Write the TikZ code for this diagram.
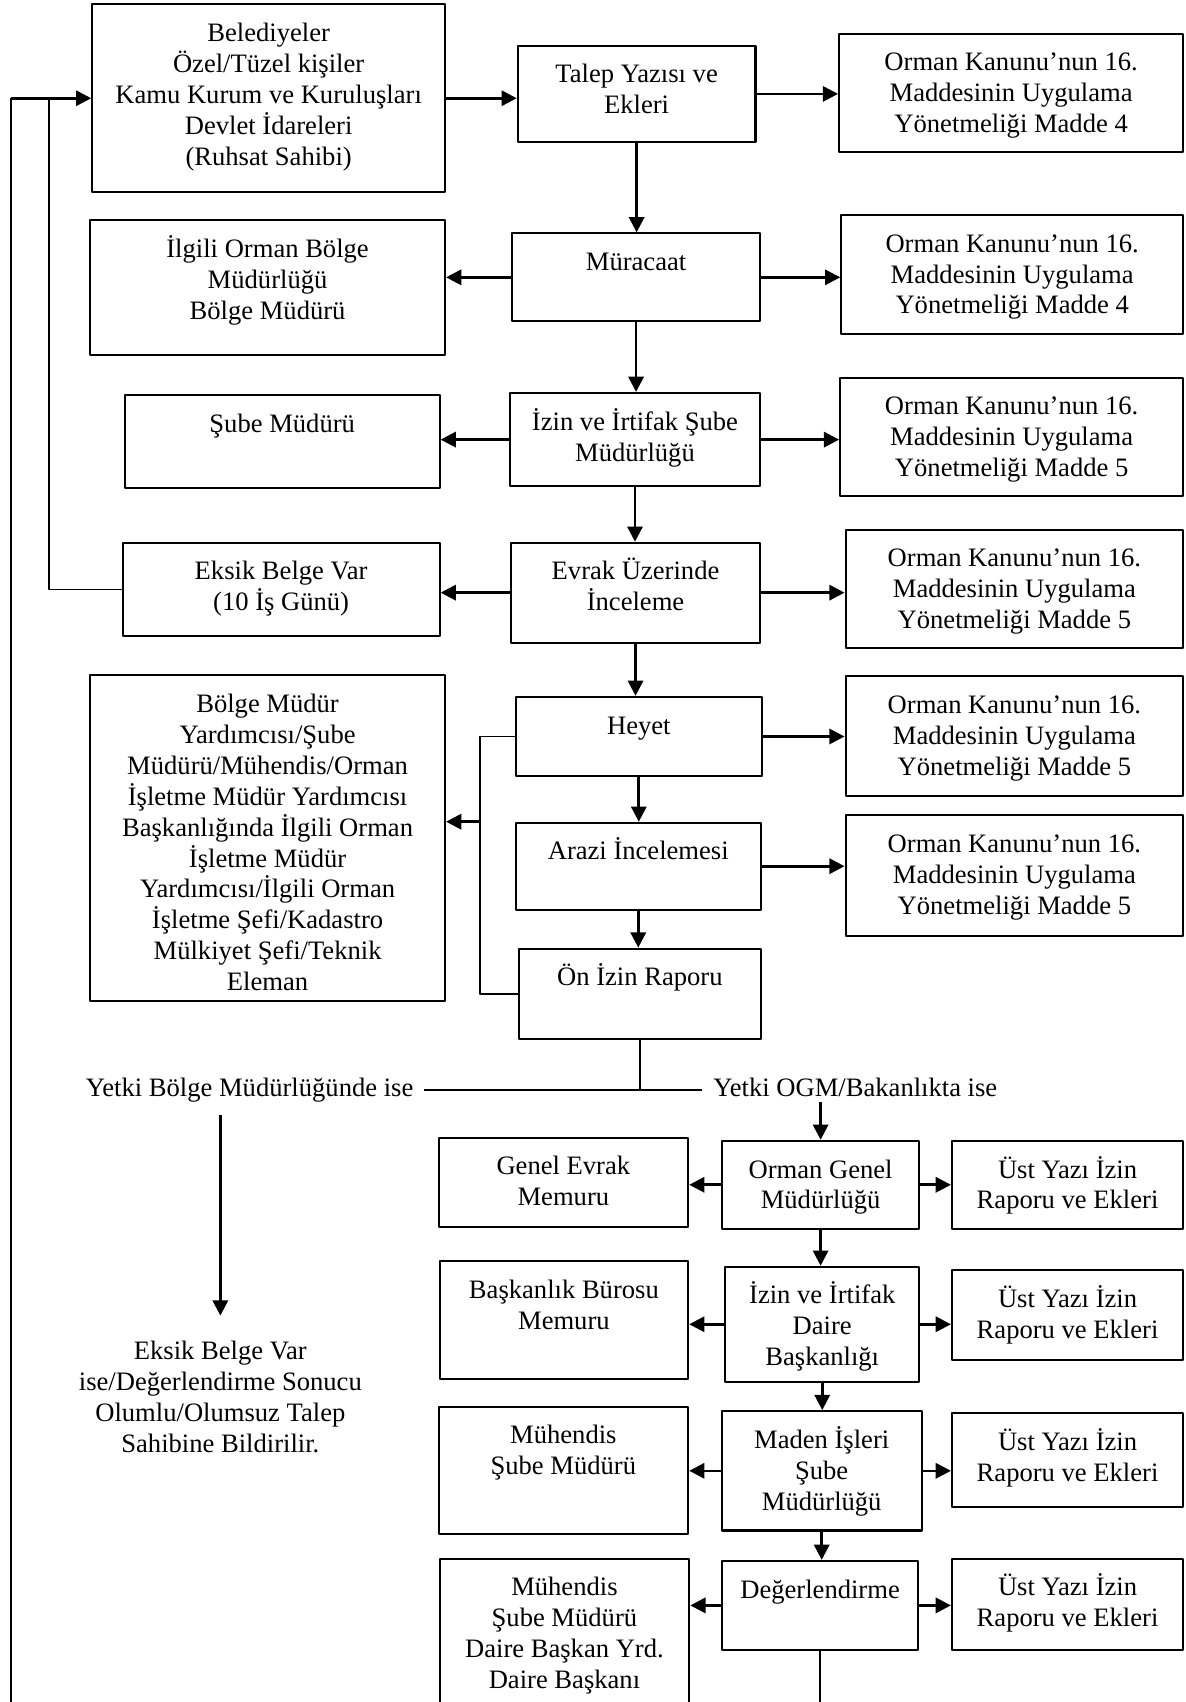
\documentclass[tikz,border=0pt]{standalone}
\usepackage{fontspec}
\setmainfont{Liberation Serif}
\usetikzlibrary{arrows.meta,fit}

\begin{document}
\begin{tikzpicture}[x=1pt, y=-1pt, line join=round,
    kutu/.style={draw, line width=1.9pt, inner sep=0pt},
    duz/.style={align=center, inner sep=0pt, font=\fontsize{24.5}{28.5}\selectfont},
    ust/.style={label={[duz, anchor=north, yshift=-13pt]north:\rule{0pt}{22pt}#1}},
    ok/.style={line width=2.4pt, -{Triangle[length=14pt, width=14pt]}},
    ince/.style={line width=1.5pt}]

    \useasboundingbox (0,0) rectangle (1092,1568);

    % basvuru kismi
    \node[kutu, fit={(85,4) (410,177)}, ust={Belediyeler\\Özel/Tüzel kişiler\\Kamu Kurum ve Kuruluşları\\Devlet İdareleri\\(Ruhsat Sahibi)}] (bel) {};
    \node[kutu, fit={(477,42) (696,131)}, ust={Talep Yazısı ve\\Ekleri}] (talep) {};
    \node[kutu, fit={(773,31) (1090,140)}, ust={Orman Kanunu’nun 16.\\Maddesinin Uygulama\\Yönetmeliği Madde 4}] (kanun1) {};

    \node[kutu, fit={(83,203) (410,327)}, ust={İlgili Orman Bölge\\Müdürlüğü\\Bölge Müdürü}] (ilgili) {};
    \node[kutu, fit={(472,215) (700,296)}, ust={Müracaat}] (muracaat) {};
    \node[kutu, fit={(775,198) (1090,308)}, ust={Orman Kanunu’nun 16.\\Maddesinin Uygulama\\Yönetmeliği Madde 4}] (kanun2) {};

    \node[kutu, fit={(115,364) (405,450)}, ust={Şube Müdürü}] (sube) {};
    \node[kutu, fit={(470,362) (700,448)}, ust={İzin ve İrtifak Şube\\Müdürlüğü}] (izin) {};
    \node[kutu, fit={(774,348) (1090,457)}, ust={Orman Kanunu’nun 16.\\Maddesinin Uygulama\\Yönetmeliği Madde 5}] (kanun3) {};

    \node[kutu, fit={(113,500) (405,586)}, ust={Eksik Belge Var\\(10 İş Günü)}] (eksik) {};
    \node[kutu, fit={(471,500) (700,592)}, ust={Evrak Üzerinde\\İnceleme}] (evrak) {};
    \node[kutu, fit={(779,488) (1090,597)}, ust={Orman Kanunu’nun 16.\\Maddesinin Uygulama\\Yönetmeliği Madde 5}] (kanun4) {};

    \node[kutu, fit={(83,622) (410,922)}, ust={Bölge Müdür\\Yardımcısı/Şube\\Müdürü/Mühendis/Orman\\İşletme Müdür Yardımcısı\\Başkanlığında İlgili Orman\\İşletme Müdür\\Yardımcısı/İlgili Orman\\İşletme Şefi/Kadastro\\Mülkiyet Şefi/Teknik\\Eleman}] (uyeler) {};
    \node[kutu, fit={(475,642) (702,715)}, ust={Heyet}] (heyet) {};
    \node[kutu, fit={(779,623) (1090,733)}, ust={Orman Kanunu’nun 16.\\Maddesinin Uygulama\\Yönetmeliği Madde 5}] (kanun5) {};
    \node[kutu, fit={(475,758) (701,838)}, ust={Arazi İncelemesi}] (arazi) {};
    \node[kutu, fit={(779,751) (1090,862)}, ust={Orman Kanunu’nun 16.\\Maddesinin Uygulama\\Yönetmeliği Madde 5}] (kanun6) {};
    \node[kutu, fit={(478,874) (701,957)}, ust={Ön İzin Raporu}] (onizin) {};

    % yetki ayrimi
    \node[duz, anchor=base east] (yetki1) at (381,1010) {Yetki Bölge Müdürlüğünde ise};
    \node[duz, anchor=base west] (yetki2) at (657,1010) {Yetki OGM/Bakanlıkta ise};
    \node[duz, anchor=north] (sonuc) at (203,1235) {Eksik Belge Var\\ise/Değerlendirme Sonucu\\Olumlu/Olumsuz Talep\\Sahibine Bildirilir.};

    % genel mudurluk kismi
    \node[kutu, fit={(404,1048) (634,1130)}, ust={Genel Evrak\\Memuru}] (genel) {};
    \node[kutu, fit={(665,1051) (847,1132)}, ust={Orman Genel\\Müdürlüğü}] (ogm) {};
    \node[kutu, fit={(877,1051) (1090,1132)}, ust={Üst Yazı İzin\\Raporu ve Ekleri}] (ek1) {};
    \node[kutu, fit={(405,1162) (634,1270)}, ust={Başkanlık Bürosu\\Memuru}] (buro) {};
    \node[kutu, fit={(668,1167) (847,1273)}, ust={İzin ve İrtifak\\Daire\\Başkanlığı}] (daire) {};
    \node[kutu, fit={(877,1170) (1090,1253)}, ust={Üst Yazı İzin\\Raporu ve Ekleri}] (ek2) {};
    \node[kutu, fit={(404,1296) (634,1413)}, ust={Mühendis\\Şube Müdürü}] (muh1) {};
    \node[kutu, fit={(665,1300) (849,1410)}, ust={Maden İşleri\\Şube\\Müdürlüğü}] (maden) {};
    \node[kutu, fit={(877,1302) (1090,1388)}, ust={Üst Yazı İzin\\Raporu ve Ekleri}] (ek3) {};
    \node[kutu, fit={(405,1436) (635,1570)}, ust={Mühendis\\Şube Müdürü\\Daire Başkan Yrd.\\Daire Başkanı}] (muh2) {};
    \node[kutu, fit={(665,1438) (846,1520)}, ust={Değerlendirme}] (deger) {};
    \node[kutu, fit={(877,1436) (1090,1520)}, ust={Üst Yazı İzin\\Raporu ve Ekleri}] (ek4) {};

    \coordinate (dis) at (10,1568);
    \coordinate (ic) at (45,0);
    \coordinate (kol) at (442,757);

    % oklar
    \draw[ok] (bel.east) -- (bel.east -| talep.west);
    \draw[ok] (talep.east) -- (talep.east -| kanun1.west);
    \foreach \a/\b in {talep/muracaat, muracaat/izin, izin/evrak, evrak/heyet, heyet/arazi, arazi/onizin, ogm/daire, daire/maden, maden/deger}
        \draw[ok] (\a.south) -- (\a.south |- \b.north);
    \foreach \a/\b in {muracaat/ilgili, izin/sube, evrak/eksik, ogm/genel, daire/buro, maden/muh1, deger/muh2}
        \draw[ok] (\a.west) -- (\a.west -| \b.east);
    \foreach \a/\b in {muracaat/kanun2, izin/kanun3, evrak/kanun4, heyet/kanun5, arazi/kanun6, ogm/ek1, daire/ek2, maden/ek3, deger/ek4}
        \draw[ok] (\a.east) -- (\a.east -| \b.west);

    \draw[ince] (heyet.west) -| (kol) |- (onizin.west);
    \draw[ok] (kol) -- (kol -| uyeler.east);

    \draw[ince] (onizin.south) -- (onizin.south |- yetki1.east);
    \draw[ince, shorten <=10pt, shorten >=10pt] (yetki1.east) -- (yetki1.east -| yetki2.west);
    \draw[ok, shorten <=12pt, shorten >=23pt] (yetki1.south -| sonuc.north) -- (sonuc.north);
    \draw[ok, shorten <=5pt] (yetki2.south -| ogm.north) -- (ogm.north);

    % geri donus cizgileri
    \draw[ince] (dis) -- (dis |- bel.west);
    \draw[ok] (dis |- bel.west) -- (bel.west);
    \draw[ince] (eksik.west) -| (ic |- bel.west);
    \draw[ince] (deger.south) -- (deger.south |- dis);
\end{tikzpicture}
\end{document}
